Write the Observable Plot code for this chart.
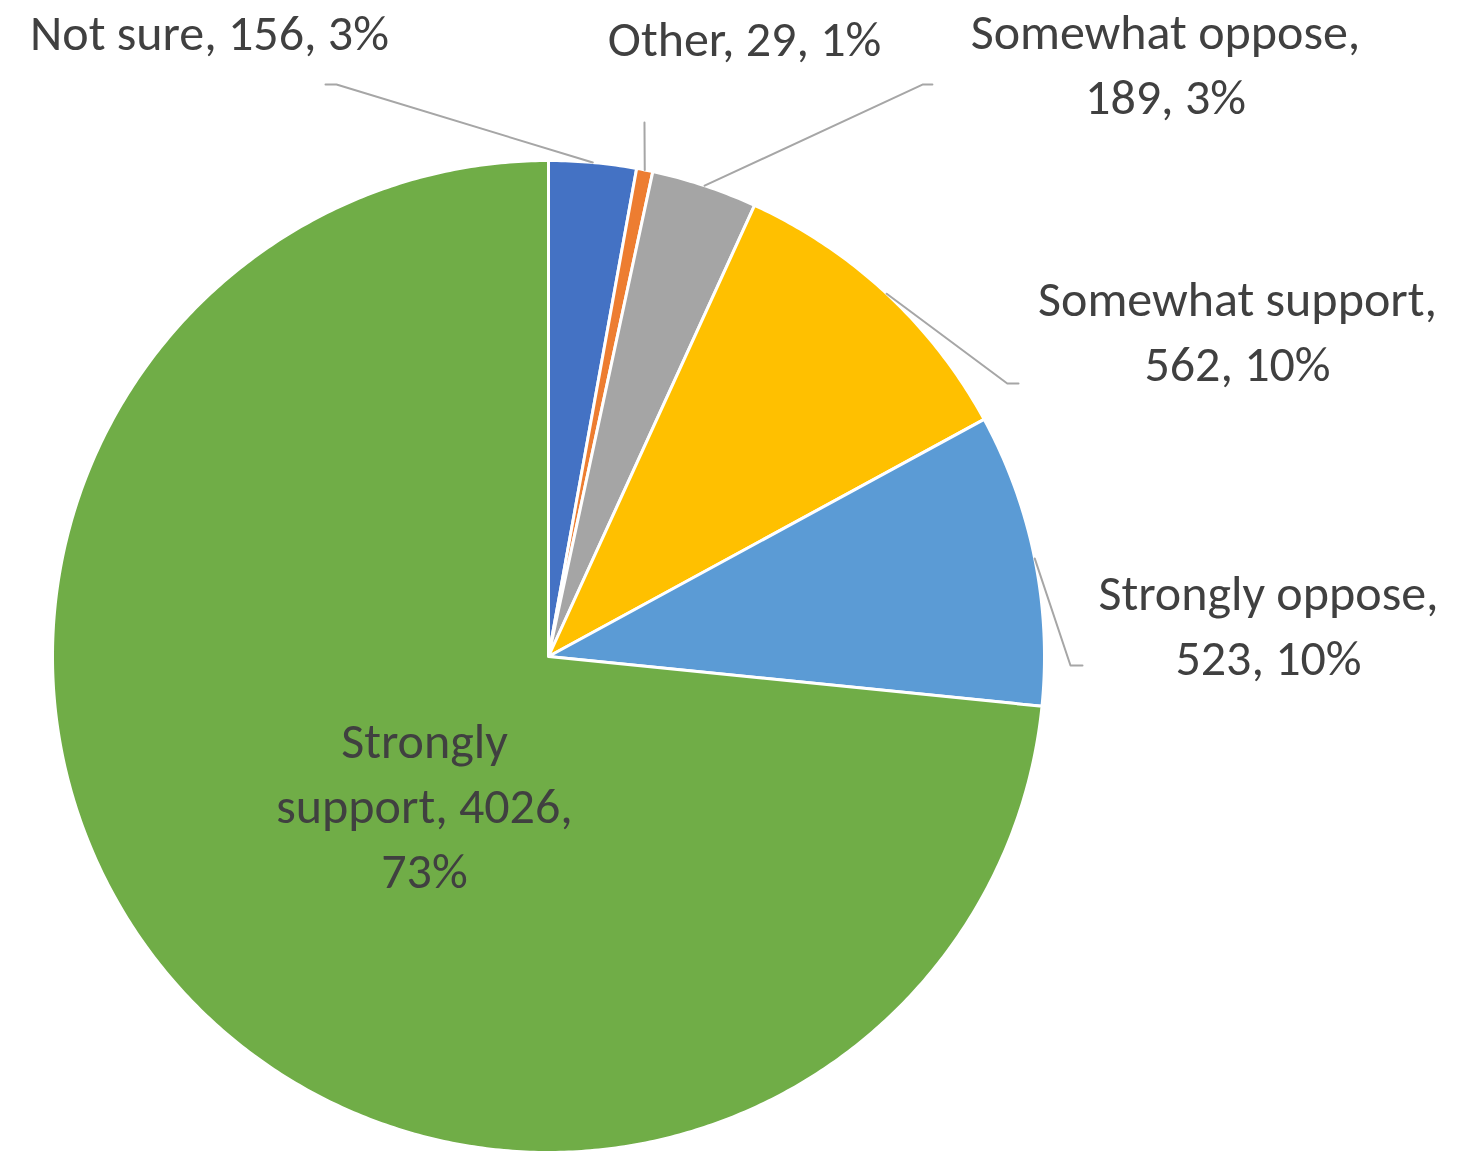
<!DOCTYPE html>
<html>
<head>
<meta charset="utf-8">
<script src="https://cdn.jsdelivr.net/npm/d3@7"></script>
<script src="https://cdn.jsdelivr.net/npm/@observablehq/plot@0.6"></script>
<style>
  html, body { margin: 0; padding: 0; background: #ffffff; }
  #chart svg { display: block; }
</style>
</head>
<body>
<div id="chart"></div>
<script>
// ---- data ----
const categories = ["Not sure", "Other", "Somewhat oppose", "Somewhat support", "Strongly oppose", "Strongly support"];
const counts = [156, 29, 189, 562, 523, 4026];
const percentLabels = ["3%", "1%", "3%", "10%", "10%", "73%"];
const colors = ["#4472C4", "#ED7D31", "#A5A5A5", "#FFC000", "#5B9BD5", "#70AD47"];

// ---- label layout (in units of the pie radius) ----
const labelWrap = [Infinity, Infinity, 16, 17, 16, 14];
const labelX = [-0.6835, 0.3952, 1.2440, 1.3891, 1.4516, -0.25];
const labelY = [1.2641, 1.2520, 1.2006, 0.6632, 0.0695, -0.2944];
const elbowX = [-0.4274, 0.1935, 0.754, 0.925, 1.0524, null];
const elbowY = [1.1532, 1.0766, 1.153, 0.5504, -0.0181, null];
const tailX = [-0.4496, null, 0.774, 0.9476, 1.0766, null];

// ---- derived geometry ----
const total = d3.sum(counts);
let acc = 0;
const slices = categories.map((c, i) => {
  const a0 = acc / total * 2 * Math.PI;
  acc += counts[i];
  const a1 = acc / total * 2 * Math.PI;
  return {c, i, a0, a1, mid: (a0 + a1) / 2};
});

const piePts = slices.flatMap(s => {
  const n = Math.max(2, Math.ceil((s.a1 - s.a0) / (Math.PI / 360)));
  const pts = [{c: s.c, u: 0, v: 0}];
  for (let k = 0; k <= n; k++) {
    const a = s.a0 + (s.a1 - s.a0) * k / n;
    pts.push({c: s.c, u: Math.sin(a), v: Math.cos(a)});
  }
  pts.push({c: s.c, u: 0, v: 0});
  return pts;
});

const leaderPts = slices.filter(s => elbowX[s.i] != null).flatMap(s => {
  const pts = [
    {c: s.c, u: Math.sin(s.mid), v: Math.cos(s.mid)},
    {c: s.c, u: elbowX[s.i], v: elbowY[s.i]}
  ];
  if (tailX[s.i] != null) pts.push({c: s.c, u: tailX[s.i], v: elbowY[s.i]});
  return pts;
});

function wrap(text, maxChars) {
  const words = text.split(" ");
  const lines = [];
  let line = "";
  for (const w of words) {
    const cand = line ? line + " " + w : w;
    if (line && cand.length > maxChars) { lines.push(line); line = w; }
    else line = cand;
  }
  if (line) lines.push(line);
  return lines.join("\n");
}

const labels = slices.map(s => ({
  c: s.c,
  u: labelX[s.i],
  v: labelY[s.i],
  text: wrap(`${s.c}, ${counts[s.i]}, ${percentLabels[s.i]}`, labelWrap[s.i])
}));

const fontSize = 50;
const chart = Plot.plot({
  width: 1462,
  height: 1153,
  margin: 0,
  style: {fontFamily: "Carlito, Calibri, Lato, sans-serif", background: "#ffffff"},
  x: {domain: [-1, 1], range: [52, 1044], axis: null},
  y: {domain: [-1, 1], range: [1152, 160], axis: null},
  color: {domain: categories, range: colors},
  marks: [
    Plot.line(piePts, {x: "u", y: "v", z: "c", fill: "c", stroke: "#ffffff", strokeWidth: 3, curve: "linear"}),
    Plot.line(leaderPts, {x: "u", y: "v", z: "c", stroke: "#A6A6A6", strokeWidth: 2}),
    Plot.text(labels, {
      x: "u", y: "v", text: "text",
      fill: "#404040", fontSize, lineHeight: 65 / fontSize,
      textAnchor: "middle", lineAnchor: "middle"
    })
  ]
});
document.getElementById("chart").append(chart);
</script>
</body>
</html>
